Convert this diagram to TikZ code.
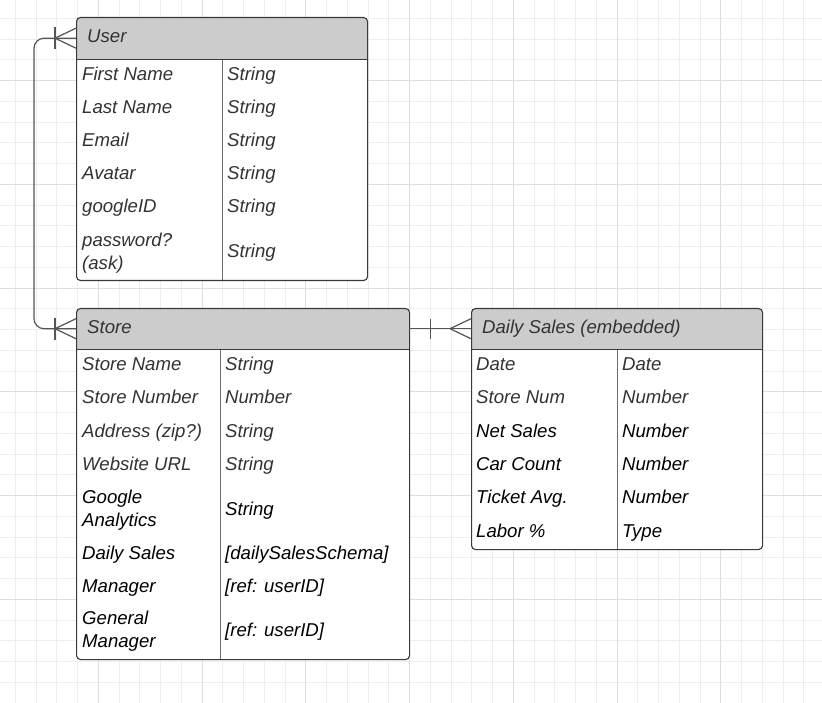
\documentclass[tikz,border=0pt]{standalone}
\usepackage{fontspec}
\setmainfont{Liberation Sans}
\definecolor{gridminor}{HTML}{EEEEEE}
\definecolor{gridmajor}{HTML}{DEDEDE}
\definecolor{hdrfill}{HTML}{CCCCCC}
\definecolor{boxline}{HTML}{36393D}
\definecolor{divline}{HTML}{6E6E6E}
\definecolor{graytext}{HTML}{333333}
\definecolor{conn}{HTML}{555555}
\newcommand\cellfont{\fontsize{18.6}{23}\selectfont\itshape}
\tikzset{
  minorline/.style={gridminor, line width=1pt},
  majorline/.style={gridmajor, line width=1pt},
  tablebox/.style={draw=boxline, line width=1.1pt, rounded corners=4pt, inner sep=0pt, anchor=north west},
  hdrtext/.style={anchor=west, inner sep=0pt, font=\cellfont, text height=13.3pt, text depth=0pt, text=graytext},
  cell/.style={anchor=west, inner sep=0pt, font=\cellfont, text height=13.3pt, text depth=0pt},
  cellb/.style={anchor=west, inner sep=0pt, font=\cellfont, align=left},
  gtxt/.style={text=graytext},
  btxt/.style={text=black},
  hdrline/.style={draw=boxline, line width=1.1pt},
  divider/.style={draw=divline, line width=1pt},
  connector/.style={draw=conn, line width=1.2pt},
}
\begin{document}
\begin{tikzpicture}[x=1pt,y=-1pt]
\useasboundingbox (0,0) rectangle (822,703);
\fill[white] (0,0) rectangle (822,703);
% grid
\foreach \i in {0,...,38} {\draw[minorline] ({15.3+20.75*\i},0) -- ({15.3+20.75*\i},703);}
\foreach \i in {0,...,32} {\draw[minorline] (0,{18.3+20.75*\i}) -- (822,{18.3+20.75*\i});}
\foreach \i in {0,...,7} {\draw[majorline] ({98.3+103.75*\i},0) -- ({98.3+103.75*\i},703);}
\foreach \i in {0,...,6} {\draw[majorline] (0,{80.55+103.75*\i}) -- (822,{80.55+103.75*\i});}

% ---------- User table ----------
\fill[white, rounded corners=4pt] (76,17) rectangle (367,280);
\begin{scope}
\clip[rounded corners=4pt] (76,17) rectangle (367,280);
\fill[hdrfill] (76,17) rectangle (367,59);
\end{scope}
\draw[divider] (222,59) -- (222,280);
\node[tablebox, minimum width=291pt, minimum height=263pt] (user) at (76,17) {};
\node[inner sep=0pt, minimum width=291pt, minimum height=42pt, anchor=north west] (userhdr) at (76,17) {};
\draw[hdrline] (userhdr.south west) -- (userhdr.south east);
\node[hdrtext] (userT) at (87,36) {User};
\node[cell,gtxt] (u1a) at (82,74) {First Name};   \node[cell,gtxt] (u1b) at (227,74) {String};
\node[cell,gtxt] (u2a) at (82,107) {Last Name};   \node[cell,gtxt] (u2b) at (227,107) {String};
\node[cell,gtxt] (u3a) at (82,140) {Email};       \node[cell,gtxt] (u3b) at (227,140) {String};
\node[cell,gtxt] (u4a) at (82,173) {Avatar};      \node[cell,gtxt] (u4b) at (227,173) {String};
\node[cell,gtxt] (u5a) at (82,206) {googleID};    \node[cell,gtxt] (u5b) at (227,206) {String};
\node[cellb,gtxt] (u6a) at (82,253) {password?\\(ask)}; \node[cell,gtxt] (u6b) at (227,251) {String};

% ---------- Store table ----------
\fill[white, rounded corners=4pt] (76,308) rectangle (409,659);
\begin{scope}
\clip[rounded corners=4pt] (76,308) rectangle (409,659);
\fill[hdrfill] (76,308) rectangle (409,349);
\end{scope}
\draw[divider] (220,349) -- (220,659);
\node[tablebox, minimum width=333pt, minimum height=351pt] (store) at (76,308) {};
\node[inner sep=0pt, minimum width=333pt, minimum height=41pt, anchor=north west] (storehdr) at (76,308) {};
\draw[hdrline] (storehdr.south west) -- (storehdr.south east);
\node[hdrtext] (storeT) at (87,327) {Store};
\node[cell,gtxt] (s1a) at (82,364) {Store Name};    \node[cell,gtxt] (s1b) at (225,364) {String};
\node[cell,gtxt] (s2a) at (82,397) {Store Number};  \node[cell,gtxt] (s2b) at (225,397) {Number};
\node[cell,gtxt] (s3a) at (82,431) {Address (zip?)};\node[cell,gtxt] (s3b) at (225,431) {String};
\node[cell,gtxt] (s4a) at (82,464) {Website URL};   \node[cell,gtxt] (s4b) at (225,464) {String};
\node[cellb,btxt] (s5a) at (82,510.5) {Google\\Analytics}; \node[cell,btxt] (s5b) at (225,509) {String};
\node[cell,btxt] (s6a) at (82,553) {Daily Sales};   \node[cell,btxt] (s6b) at (225,553) {[dailySalesSchema]};
\node[cell,btxt] (s7a) at (82,586) {Manager};       \node[cell,btxt] (s7b) at (225,586) {[ref: userID]};
\node[cellb,btxt] (s8a) at (82,631.5) {General\\Manager}; \node[cell,btxt] (s8b) at (225,630) {[ref: userID]};

% ---------- Daily Sales table ----------
\fill[white, rounded corners=4pt] (471,308) rectangle (762,549);
\begin{scope}
\clip[rounded corners=4pt] (471,308) rectangle (762,549);
\fill[hdrfill] (471,308) rectangle (762,349);
\end{scope}
\draw[divider] (617,349) -- (617,549);
\node[tablebox, minimum width=291pt, minimum height=241pt] (daily) at (471,308) {};
\node[inner sep=0pt, minimum width=291pt, minimum height=41pt, anchor=north west] (dailyhdr) at (471,308) {};
\draw[hdrline] (dailyhdr.south west) -- (dailyhdr.south east);
\node[hdrtext] (dailyT) at (482,327) {Daily Sales (embedded)};
\node[cell,gtxt] (d1a) at (476,364) {Date};       \node[cell,gtxt] (d1b) at (622,364) {Date};
\node[cell,gtxt] (d2a) at (476,397) {Store Num};  \node[cell,gtxt] (d2b) at (622,397) {Number};
\node[cell,btxt] (d3a) at (476,431) {Net Sales};  \node[cell,btxt] (d3b) at (622,431) {Number};
\node[cell,btxt] (d4a) at (476,464) {Car Count};  \node[cell,btxt] (d4b) at (622,464) {Number};
\node[cell,btxt] (d5a) at (476,497) {Ticket Avg.};\node[cell,btxt] (d5b) at (622,497) {Number};
\node[cell,btxt] (d6a) at (476,531) {Labor \%};   \node[cell,btxt] (d6b) at (622,531) {Type};

% ---------- connectors ----------
\draw[connector, rounded corners=10pt] (userhdr.west) -- ++(-42,0) |- (storehdr.west);
% crow's feet at User end
\draw[connector] ([xshift=-21pt]userhdr.west) ++(0,-11) -- ++(0,22);
\draw[connector] ([xshift=-21pt]userhdr.west) -- ([yshift=-10pt]userhdr.west);
\draw[connector] ([xshift=-21pt]userhdr.west) -- ([yshift=10pt]userhdr.west);
% crow's feet at Store end
\draw[connector] ([xshift=-21pt]storehdr.west) ++(0,-11) -- ++(0,22);
\draw[connector] ([xshift=-21pt]storehdr.west) -- ([yshift=-10pt]storehdr.west);
\draw[connector] ([xshift=-21pt]storehdr.west) -- ([yshift=10pt]storehdr.west);
% Store -- Daily Sales
\draw[connector] (storehdr.east) -- (dailyhdr.west);
\draw[connector] ([xshift=21pt]storehdr.east) ++(0,-10) -- ++(0,20);
\draw[connector] ([xshift=-21pt]dailyhdr.west) -- ([yshift=-10pt]dailyhdr.west);
\draw[connector] ([xshift=-21pt]dailyhdr.west) -- ([yshift=10pt]dailyhdr.west);
\end{tikzpicture}
\end{document}
